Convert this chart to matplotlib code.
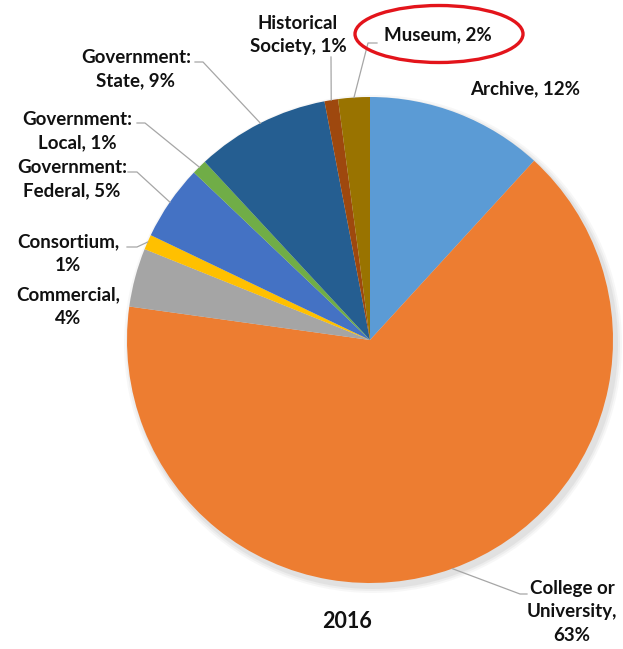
import matplotlib
matplotlib.use('Agg')
import matplotlib.pyplot as plt
from matplotlib.patches import Ellipse, Circle
import numpy as np

categories = ['Archive', 'College or University', 'Commercial', 'Consortium',
              'Government: Federal', 'Government: Local', 'Government: State',
              'Historical Society', 'Museum']
shares = [11.8, 65.4, 3.9, 1.0, 5.0, 1.0, 8.9, 0.9, 2.1]
label_text = ['Archive, 12%', 'College or\nUniversity,\n63%', 'Commercial,\n4%',
              'Consortium,\n1%', 'Government:\nFederal, 5%', 'Government:\nLocal, 1%',
              'Government:\nState, 9%', 'Historical\nSociety, 1%', 'Museum, 2%']
colors = ['#5B9BD5', '#ED7D31', '#A5A5A5', '#FFC000', '#4472C4',
          '#70AD47', '#255E91', '#9E480E', '#997300']
title = '2016'

W, H = 623, 649
fig = plt.figure(figsize=(W / 100, H / 100), dpi=100)
ax = fig.add_axes([0, 0, 1, 1])

cx, cy, r = 370, 340, 243

# soft shadow under the pie
for k, a in zip([6, 4, 2], [0.06, 0.08, 0.10]):
    ax.add_patch(Circle((cx + 3, cy + 4), r + k, color='#808080', alpha=a, lw=0, zorder=0))

# y axis is inverted (pixel coords), so counterclock=True draws clockwise on screen
wedges, _ = ax.pie(shares, colors=colors, startangle=-90, counterclock=True,
                   center=(cx, cy), radius=r, wedgeprops=dict(linewidth=0))
for w in wedges:
    w.set_zorder(2)

ax.set_xlim(0, W)
ax.set_ylim(H, 0)
ax.set_aspect('equal')
ax.axis('off')

# label centres
label_pos = [(525, 89), (572, 612), (68, 307), (68, 254), (72, 179),
             (77, 131), (136, 69), (298, 35), (438, 35)]
# label-side end of leader lines (None = no leader)
leader_start = [None, [(527, 594), (520, 594)], None, [(127, 247), (137, 247)],
                [(128, 172), (137, 172)], [(137, 123), (145, 123)],
                [(195, 62), (203, 62)], [(331, 57)], [(377, 43), (368, 43)]]

font = dict(family=['Lato', 'DejaVu Sans'], fontweight='bold', fontsize=13.5, color='#111111')
for i, w in enumerate(wedges):
    ax.text(label_pos[i][0], label_pos[i][1], label_text[i], ha='center', va='center',
            linespacing=1.47, zorder=5, **font)
    if leader_start[i] is not None:
        mid = np.deg2rad((w.theta1 + w.theta2) / 2)
        ex = w.center[0] + w.r * np.cos(mid)
        ey = w.center[1] + w.r * np.sin(mid)
        pts = leader_start[i] + [(ex, ey)]
        ax.plot([p[0] for p in pts], [p[1] for p in pts], color='#A6A6A6', lw=0.9, zorder=3)

ax.text(347, 622, title, ha='center', va='center', family=['Lato', 'DejaVu Sans'],
        fontweight='bold', fontsize=15.5, color='#111111')

# red highlight around the museum label
ax.add_patch(Ellipse((439, 34), 168, 57, fill=False, edgecolor='#E3141B', lw=2.4, zorder=6))

fig.savefig('out.png', dpi=100)
